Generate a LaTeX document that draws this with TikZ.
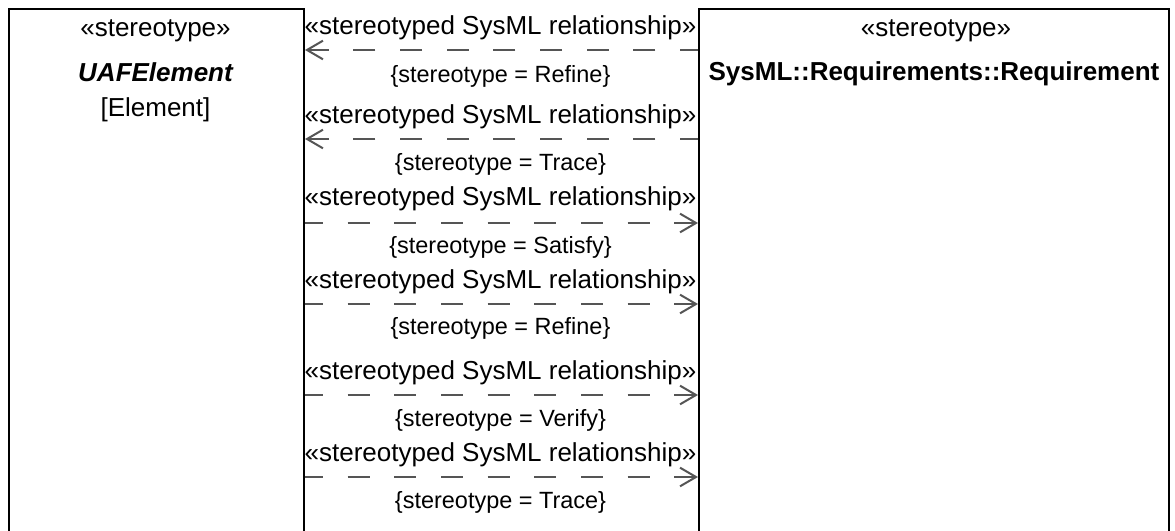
\documentclass[tikz,border=0pt]{standalone}
\usepackage{fontspec}
\setmainfont{Liberation Sans}
\usetikzlibrary{arrows.meta,positioning,calc}
\definecolor{Ink}{HTML}{000000}
\definecolor{Wire}{HTML}{555555}
\tikzset{
  block/.style={draw=Ink,fill=white,line width=1.5pt,anchor=north west,inner sep=0pt},
  title/.style={font=\fontsize{19.5}{23}\selectfont,inner sep=0pt},
  heading/.style={font=\fontsize{19.5}{23}\selectfont\bfseries,inner sep=0pt},
  tag/.style={font=\fontsize{17.6}{21}\selectfont,inner sep=0pt},
  rel/.style={draw=Wire,line width=1.5pt,dash pattern=on 16.5pt off 18.5pt,dash phase=3pt,-{Straight Barb[length=12pt,width=14pt]}}
}
\begin{document}
\begin{tikzpicture}[x=0.75pt,y=-0.75pt]
  \clip (0,0) rectangle (1175,531);
  \fill[white] (0,0) rectangle (1175,531);
  % the two classifiers
  \node[block,minimum width=221.25pt,minimum height=402pt] (uafelem) at (8,8) {};
  \node[block,minimum width=352.5pt,minimum height=402pt] (reqbox) at (698,8) {};
  \node[title] (uafst) at (155.5,31) {«stereotype»};
  \node[heading,font=\fontsize{19.5}{23}\selectfont\bfseries\itshape] (uafname) at (155.5,72) {UAFElement};
  \node[title] (uafmeta) at (155.5,110) {[Element]};
  \node[title] (reqst) at (936,31) {«stereotype»};
  \node[heading] (reqname) at (934,74) {SysML::Requirements::Requirement};
  % stereotyped relationships
  \draw[rel] (reqbox.west |- 0,50) -- (uafelem.east |- 0,50);
  \node[title] (r1name) at (500.5,28) {«stereotyped SysML relationship»};
  \node[tag] (r1kind) at (500.5,76) {\{stereotype = Refine\}};
  \draw[rel] (reqbox.west |- 0,139) -- (uafelem.east |- 0,139);
  \node[title] (r2name) at (500.5,117) {«stereotyped SysML relationship»};
  \node[tag] (r2kind) at (500.5,164) {\{stereotype = Trace\}};
  \draw[rel] (uafelem.east |- 0,223) -- (reqbox.west |- 0,223);
  \node[title] (r3name) at (500.5,199) {«stereotyped SysML relationship»};
  \node[tag] (r3kind) at (500.5,247) {\{stereotype = Satisfy\}};
  \draw[rel] (uafelem.east |- 0,304) -- (reqbox.west |- 0,304);
  \node[title] (r4name) at (500.5,282) {«stereotyped SysML relationship»};
  \node[tag] (r4kind) at (500.5,328) {\{stereotype = Refine\}};
  \draw[rel] (uafelem.east |- 0,395) -- (reqbox.west |- 0,395);
  \node[title] (r5name) at (500.5,373) {«stereotyped SysML relationship»};
  \node[tag] (r5kind) at (500.5,420) {\{stereotype = Verify\}};
  \draw[rel] (uafelem.east |- 0,477) -- (reqbox.west |- 0,477);
  \node[title] (r6name) at (500.5,455) {«stereotyped SysML relationship»};
  \node[tag] (r6kind) at (500.5,502) {\{stereotype = Trace\}};
\end{tikzpicture}
\end{document}
